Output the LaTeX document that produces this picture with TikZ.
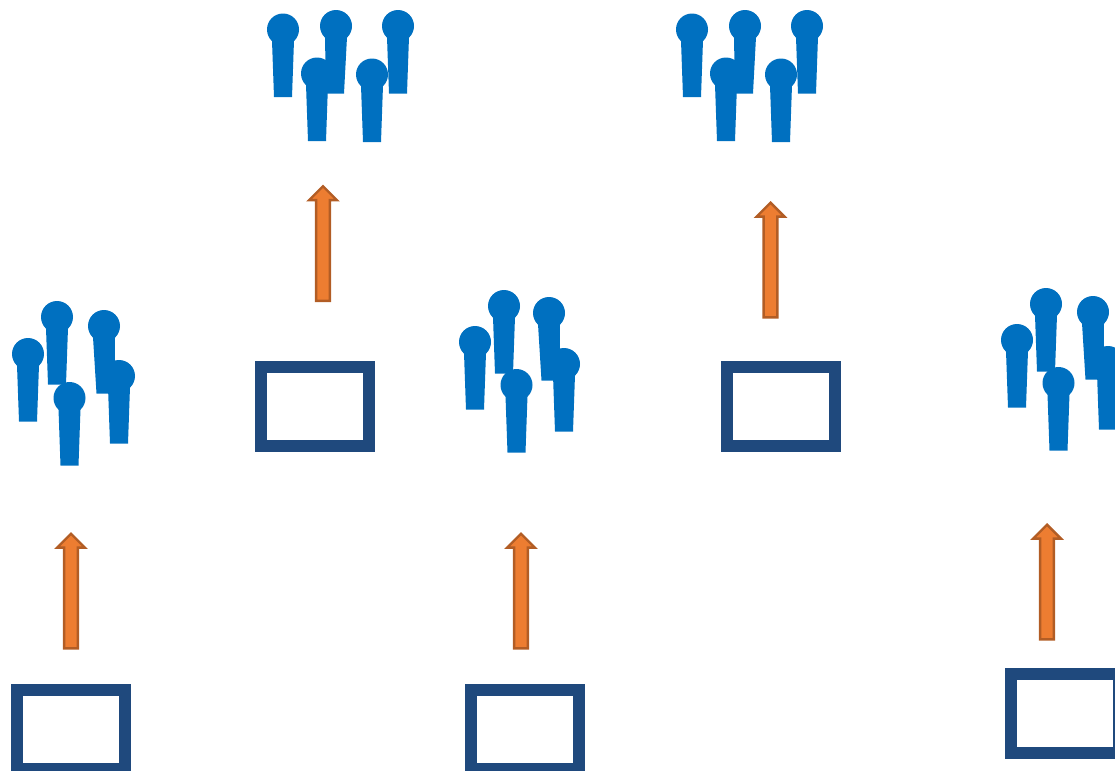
\documentclass[tikz,border=0pt]{standalone}
\usetikzlibrary{shapes.arrows}

\definecolor{manblue}{HTML}{0070C0}
\definecolor{boxblue}{HTML}{1F497D}
\definecolor{arroworange}{HTML}{ED7D31}
\definecolor{arrowedge}{HTML}{B25D25}

\tikzset{
  desk/.style={rectangle, draw=boxblue, line width=9pt, minimum width=81pt, minimum height=59.25pt, inner sep=0pt},
  uparrow/.style={single arrow, rotate=90, draw=arrowedge, fill=arroworange, line width=1.8pt, inner xsep=0pt, inner ysep=4.3pt,
    minimum height=86pt, single arrow head extend=5.2pt, single arrow tip angle=90},
  head/.style={circle, fill=manblue, minimum size=24pt, inner sep=0pt},
}

\newcommand{\crowd}[1]{
  \foreach \hx/\hy/\dx in {#1} {
    \fill[manblue] (\hx-11,\hy+11) -- (\hx+11,\hy+11) -- (\hx+\dx+9,\hy+67.5) -- (\hx+\dx-9,\hy+67.5) -- cycle;
    \node[head] at (\hx,\hy) {};
  }
}

\begin{document}
\begin{tikzpicture}[x=0.75pt, y=-0.75pt]
\path[use as bounding box, clip] (0,0) rectangle (1115,771);
% desks
\node[desk] (desk1) at (71,729.5) {};
\node[desk] (desk2) at (315,406.5) {};
\node[desk] (desk3) at (525,729.5) {};
\node[desk] (desk4) at (780.5,406.5) {};
\node[desk] (desk5) at (1065,713.5) {};
% arrows
\node[uparrow] (arrow1) at (71,594.5) {};
\node[uparrow] (arrow2) at (323,247) {};
\node[uparrow] (arrow3) at (521,594.5) {};
\node[uparrow] (arrow4) at (770.5,263.5) {};
\node[uparrow] (arrow5) at (1047,585.5) {};
% crowds
\crowd{28/354/0, 57/317/0, 104/326/1.5, 119/376/0, 69.5/398/0}
\crowd{283/29.5/0, 336/26/-1, 398/26/0, 317/73.5/0, 372/74.5/0}
\crowd{475/342/0, 504/306/0, 549/313/1.5, 564/364/0, 516.5/385/0}
\crowd{692/29.5/0, 745/26/-1, 807/26/0, 726/73.5/0, 781/74.5/0}
\crowd{1017/340/0, 1046/304/0, 1093/312/1.5, 1108/362/0, 1058.5/383/0}
\end{tikzpicture}
\end{document}
